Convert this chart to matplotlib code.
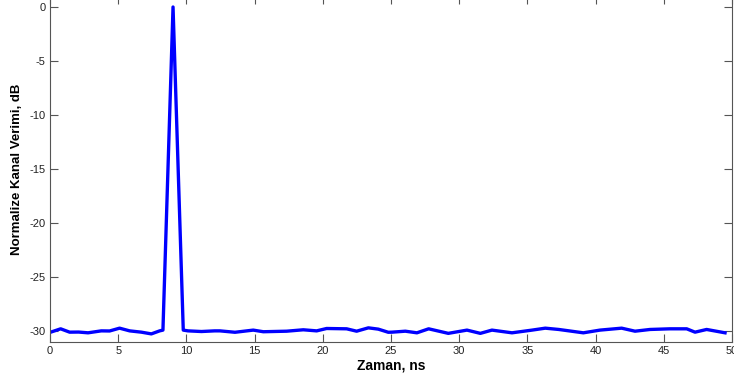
import numpy as np
import matplotlib
matplotlib.use('Agg')
import matplotlib.pyplot as plt

# channel response (time in ns, level in dB)
t_ns = [0.05, 0.78, 1.44, 2.1, 2.79, 3.76, 4.37, 5.1, 5.84, 6.7, 7.43, 8.04, 8.28,
        9.02, 9.77, 10.12, 11.1, 12.07, 12.46, 13.56, 14.9, 15.64, 17.35, 18.57,
        19.55, 20.28, 21.75, 22.48, 23.34, 24.07, 24.8, 25.07, 26.05, 26.9, 27.76,
        29.2, 30.57, 31.55, 32.4, 33.87, 35.34, 36.31, 37.3, 39.1, 40.32, 41.91,
        42.89, 43.99, 45.45, 46.68, 47.29, 48.14, 49.49]
level_db = [-30.09, -29.78, -30.09, -30.08, -30.15, -29.97, -29.98, -29.72, -29.97,
            -30.09, -30.25, -29.97, -29.9,
            0.0, -29.9, -29.97, -30.03, -29.97, -29.97, -30.1, -29.9, -30.05, -30.0,
            -29.87, -29.97, -29.75, -29.78, -30.0, -29.69, -29.81, -30.1, -30.09,
            -30.0, -30.15, -29.78, -30.2, -29.9, -30.2, -29.9, -30.15, -29.9, -29.72,
            -29.84, -30.15, -29.9, -29.72, -30.0, -29.84, -29.78, -29.78, -30.09,
            -29.84, -30.15]

x_ticks = np.arange(0, 51, 5)
y_ticks = np.arange(-30, 1, 5)

plt.rcParams['font.family'] = ['Liberation Sans', 'DejaVu Sans']
plt.rcParams['axes.unicode_minus'] = False

W, H = 734, 381
fig = plt.figure(figsize=(W / 100, H / 100), dpi=100)
# axes box: x 0..50 -> px 50..732, y -31..1 -> px 342..-3.8 (top edge cropped)
ax = fig.add_axes([50 / W, (H - 342) / H, 682 / W, 345.8 / H])

ax.plot(t_ns, level_db, color='#0000ff', linewidth=2.4, solid_joinstyle='round')

ax.set_xlim(0, 50)
ax.set_ylim(-31, 1)
ax.set_xticks(x_ticks)
ax.set_yticks(y_ticks)
ax.tick_params(direction='in', length=5.5, width=0.8, color='#555555',
               labelcolor='#222222', labelsize=8, top=True, right=True, pad=3)
for s in ax.spines.values():
    s.set_color('#555555')
    s.set_linewidth(0.8)

ax.set_xlabel('Zaman, ns', fontsize=10, fontweight='bold', labelpad=2)
ax.set_ylabel('Normalize Kanal Verimi, dB', fontsize=9.5, fontweight='bold', labelpad=5)

fig.savefig('out.png', dpi=100)
